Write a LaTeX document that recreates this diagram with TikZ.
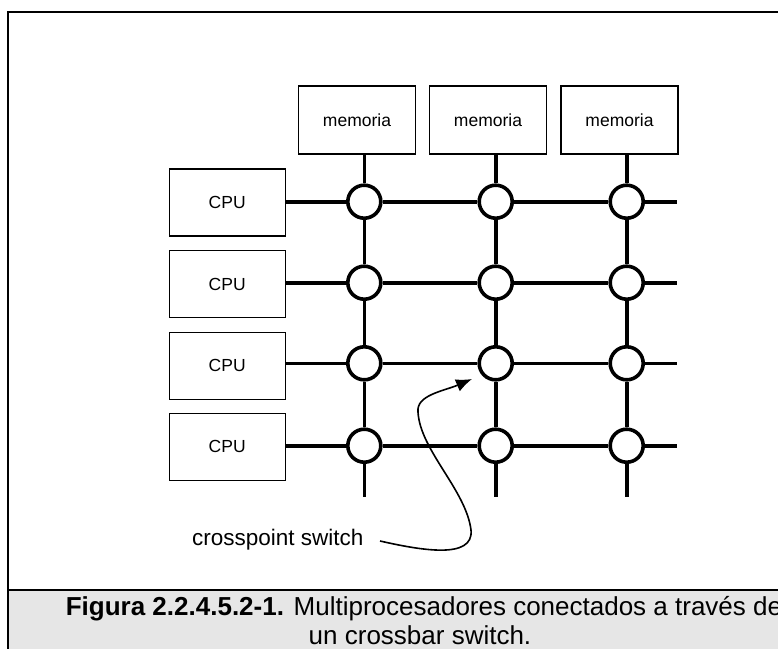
\documentclass[tikz,border=0pt]{standalone}
\usepackage{fontspec}
\setmainfont{Liberation Sans}
\usetikzlibrary{arrows.meta}
\definecolor{capgray}{RGB}{230,230,230}
\begin{document}
\begin{tikzpicture}[x=1pt,y=-1pt,
  membox/.style={draw, line width=1.3pt, minimum width=117pt, minimum height=68pt, inner sep=0pt, font=\fontsize{17.5}{20}\selectfont},
  cpubox/.style={draw, line width=1.3pt, minimum width=116pt, minimum height=67pt, inner sep=0pt, font=\fontsize{17.5}{20}\selectfont},
  xpoint/.style={circle, draw, fill=white, line width=3.6pt, minimum size=33pt, inner sep=0pt},
  bus/.style={line width=3.6pt},
  frameline/.style={line width=2.4pt},
  pointer/.style={line width=1.6pt, -{Latex[length=16pt,width=13pt]}},
  captext/.style={font=\fontsize{26}{31}\selectfont, inner sep=0pt}]
\clip (0,0) rectangle (778,648);
\fill[white] (0,0) rectangle (778,648);
\fill[capgray] (8,590) rectangle (850,700);
\draw[frameline] (8,12) rectangle (850,700);
\draw[frameline] (8,590) -- (850,590);

% memory boxes
\node[membox] (m1) at (357,120) {memoria};
\node[membox] (m2) at (488,120) {memoria};
\node[membox] (m3) at (619.5,120) {memoria};

% CPU boxes
\node[cpubox] (c1) at (227.2,202.5) {CPU};
\node[cpubox] (c2) at (227.2,284.3) {CPU};
\node[cpubox] (c3) at (227.2,365.8) {CPU};
\node[cpubox] (c4) at (227.2,446.7) {CPU};

% crosspoints
\foreach \j/\x in {1/364.3,2/495.7,3/626.7} {
  \foreach \i/\y in {1/201.7,2/282.7,3/363.3,4/445.7} {
    \node[xpoint] (x\i\j) at (\x,\y) {};
  }
  \coordinate (b\j) at (\x,496.7);
}
\foreach \i/\y in {1/201.7,2/282.7,3/363.3,4/445.7} {
  \coordinate (e\i) at (676.7,\y);
}

% vertical buses
\foreach \j in {1,2,3} {
  \draw[bus] (m\j.south -| x1\j) -- (x1\j);
  \draw[bus] (x1\j) -- (x2\j);
  \draw[bus] (x2\j) -- (x3\j);
  \draw[bus] (x3\j) -- (x4\j);
  \draw[bus] (x4\j) -- (b\j);
}
% horizontal buses
\foreach \i in {1,2,3,4} {
  \draw[bus] (c\i.east |- x\i1) -- (x\i1);
  \draw[bus] (x\i1) -- (x\i2);
  \draw[bus] (x\i2) -- (x\i3);
  \draw[bus] (x\i3) -- (e\i);
}

% label and pointer
\node[font=\fontsize{22.5}{26}\selectfont, anchor=base west, inner sep=0pt] (cs) at (192,545) {crosspoint switch};
\coordinate (cstart) at (380,541);
\coordinate (ctip) at (472,379);
\draw[pointer] (cstart) .. controls (420,550) and (474,560) .. (471,530)
  .. controls (466,490) and (420,450) .. (418,412)
  .. controls (416,395) and (444,391) .. (ctip);

% caption
\node[captext, anchor=base] (cap1) at (424,615) {\textbf{Figura 2.2.4.5.2-1.} Multiprocesadores conectados a través de};
\node[captext, anchor=base] (cap2) at (420,644) {un crossbar switch.};
\end{tikzpicture}
\end{document}
